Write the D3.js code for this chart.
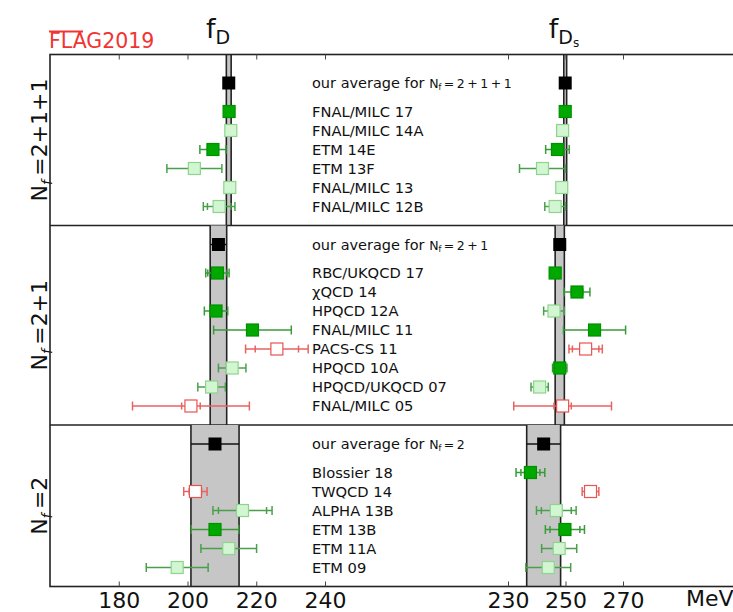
<!DOCTYPE html>
<html lang="en">
<head>
<meta charset="UTF-8">
<title>FLAG 2019 - fD and fDs</title>
<script src="https://d3js.org/d3.v7.min.js"></script>
<style>
  body { margin: 0; background: #fff; }
  svg { font-family: "DejaVu Sans", sans-serif; }
</style>
</head>
<body>
<div id="chart"></div>
<script>
// number of flavours for each panel (top to bottom)
const panelNf = ["2+1+1", "2+1", "2"];

// collaboration labels, one list per panel
const labels211 = ["FNAL/MILC 17", "FNAL/MILC 14A", "ETM 14E", "ETM 13F", "FNAL/MILC 13", "FNAL/MILC 12B"];
const labels21 = ["RBC/UKQCD 17", "χQCD 14", "HPQCD 12A", "FNAL/MILC 11", "PACS-CS 11", "HPQCD 10A", "HPQCD/UKQCD 07", "FNAL/MILC 05"];
const labels2 = ["Blossier 18", "TWQCD 14", "ALPHA 13B", "ETM 13B", "ETM 11A", "ETM 09"];

// FLAG averages [value, error] in MeV
const avgD = [[212.0, 0.7], [209.0, 2.4], [208.0, 7.0]];
const avgDs = [[249.9, 0.5], [248.0, 1.6], [242.4, 5.9]];

// results [value, stat error, total error, kind]; null = no result
// kind: "in" = used in average, "ok" = passes criteria, "bad" = does not pass
const fD211 = [[212.1, 0.6, 0.6, "in"], [212.6, 0.4, 0.4, "ok"], [207.4, 3.8, 3.8, "in"], [202.0, 8.0, 8.0, "ok"], [212.3, 1.0, 1.0, "ok"], [209.2, 3.4, 4.6, "ok"]];
const fDs211 = [[249.9, 0.4, 0.4, "in"], [249.0, 0.3, 0.3, "ok"], [247.2, 4.1, 4.1, "in"], [242.0, 8.0, 8.0, "ok"], [248.7, 1.0, 1.0, "ok"], [246.4, 0.5, 3.6, "ok"]];
const fD21 = [[208.7, 2.8, 3.4, "in"], null, [208.3, 1.0, 3.4, "in"], [218.9, 11.3, 11.3, "in"], [226.0, 6.3, 9.1, "bad"], [213.0, 4.0, 4.0, "ok"], [207.0, 4.0, 4.0, "ok"], [201.0, 2.7, 17.0, "bad"]];
const fDs21 = [[246.4, 1.3, 1.9, "in"], [254.0, 2.0, 4.5, "in"], [246.0, 0.7, 3.6, "ok"], [260.1, 10.8, 10.8, "in"], [257.0, 4.6, 5.8, "bad"], [248.0, 2.5, 2.5, "in"], [241.0, 3.0, 3.0, "ok"], [249.0, 3.0, 17.0, "bad"]];
const fD2 = [null, [202.3, 1.8, 3.4, "bad"], [216.0, 7.0, 8.6, "ok"], [208.0, 6.9, 6.9, "in"], [212.0, 8.1, 8.1, "ok"], [197.0, 9.0, 9.0, "ok"]];
const fDs2 = [[237.8, 3.3, 5.0, "in"], [258.7, 1.1, 2.9, "bad"], [246.8, 5.2, 6.9, "ok"], [249.8, 5.2, 6.8, "in"], [247.8, 6.1, 6.1, "ok"], [244.0, 7.8, 7.8, "ok"]];

// axis ticks
const ticksD = [180, 200, 220, 240];
const ticksDs = [230, 250, 270];

const panels = [
  { labels: labels211, d: fD211, ds: fDs211 },
  { labels: labels21, d: fD21, ds: fDs21 },
  { labels: labels2, d: fD2, ds: fDs2 }
];

const W = 733, H = 612;
const left = 50, right = 745;

const svg = d3.select("#chart").append("svg")
  .attr("width", W).attr("height", H);

// x scales: fD on the left, fDs on the right, same frame
const xD = d3.scaleLinear().domain([160, 240]).range([50, 325]);
const xDs = d3.scaleLinear().domain([230, 270]).range([508, 623]);

// y in "row slots"
const y = d3.scaleLinear().domain([-1.5, 26.5]).range([54.5, 586.5]);

// work out slot positions for each panel
let start = -1.5;
panels.forEach((p, i) => {
  p.start = start;
  p.avgSlot = start + (i === 0 ? 1.5 : 1);
  p.rows = p.labels.map((_, k) => p.avgSlot + 1.5 + k);
  p.end = p.rows[p.rows.length - 1] + 1;
  start = p.end;
});

const styles = {
  in: { fill: "#00a800", stroke: "#009000", bar: "#3a9a3a" },
  ok: { fill: "#d2f5d2", stroke: "#8ed48e", bar: "#4aa04a" },
  bad: { fill: "#ffffff", stroke: "#e85450", bar: "#e86262" }
};

const sq = 12;

function drawPanel(p, i) {
  const g = svg.append("g");
  const y0 = y(p.start), y1 = y(p.end);

  // bands for the two averages
  [[xD, avgD[i]], [xDs, avgDs[i]]].forEach(([x, a]) => {
    const xa = x(a[0] - a[1]), xb = x(a[0] + a[1]);
    g.append("rect").attr("x", xa).attr("y", y0).attr("width", xb - xa).attr("height", y1 - y0)
      .attr("fill", "#c6c6c6");
    g.append("line").attr("x1", xa).attr("x2", xa).attr("y1", y0).attr("y2", y1)
      .attr("stroke", "#222").attr("stroke-width", 1.6);
    g.append("line").attr("x1", xb).attr("x2", xb).attr("y1", y0).attr("y2", y1)
      .attr("stroke", "#222").attr("stroke-width", 1.6);
    // average point
    const ya = y(p.avgSlot);
    g.append("line").attr("x1", xa).attr("x2", xb).attr("y1", ya).attr("y2", ya)
      .attr("stroke", "#111").attr("stroke-width", 1.5);
    g.append("rect").attr("x", x(a[0]) - 6.5).attr("y", ya - 6.5).attr("width", 13).attr("height", 13)
      .attr("fill", "#000");
  });

  // individual results
  [[xD, p.d], [xDs, p.ds]].forEach(([x, vals]) => {
    vals.forEach((r, k) => {
      if (!r) return;
      const [v, s, t, kind] = r;
      const st = styles[kind];
      const yy = y(p.rows[k]);
      g.append("line").attr("x1", x(v - t)).attr("x2", x(v + t)).attr("y1", yy).attr("y2", yy)
        .attr("stroke", st.bar).attr("stroke-width", 1.5);
      [v - t, v + t].forEach(e => {
        g.append("line").attr("x1", x(e)).attr("x2", x(e)).attr("y1", yy - 4.5).attr("y2", yy + 4.5)
          .attr("stroke", st.bar).attr("stroke-width", 1.5);
      });
      if (s < t) {
        [v - s, v + s].forEach(e => {
          g.append("line").attr("x1", x(e)).attr("x2", x(e)).attr("y1", yy - 3.5).attr("y2", yy + 3.5)
            .attr("stroke", st.bar).attr("stroke-width", 1.5);
        });
      }
      g.append("rect").attr("x", x(v) - sq / 2).attr("y", yy - sq / 2).attr("width", sq).attr("height", sq)
        .attr("fill", st.fill).attr("stroke", st.stroke).attr("stroke-width", 1.2);
    });
  });

  // text labels
  const tx = 312;
  const avgText = g.append("text").attr("x", tx).attr("y", y(p.avgSlot) + 5)
    .attr("fill", "#111").style("font-size", "14.5px");
  avgText.append("tspan").text("our average for ");
  avgText.append("tspan").text("N").style("font-size", "12.5px");
  avgText.append("tspan").text("f").style("font-size", "8px").attr("dy", 2);
  avgText.append("tspan").text("\u2009=\u20092" + panelNf[i].slice(1).split("+").join("\u2009+\u2009"))
    .style("font-size", "12.5px").attr("dy", -2);

  g.selectAll("text.lab").data(p.labels).join("text")
    .attr("class", "lab")
    .attr("x", tx).attr("y", (d, k) => y(p.rows[k]) + 5)
    .attr("fill", "#111").style("font-size", "14.7px")
    .text(d => d);

  // rotated N_f label
  const yl = svg.append("text")
    .attr("transform", `translate(47,${(y0 + y1) / 2}) rotate(-90)`)
    .attr("text-anchor", "middle").style("font-size", "22px").attr("fill", "#111");
  yl.append("tspan").text("N");
  yl.append("tspan").text("f").style("font-size", "14px").style("font-style", "italic").attr("dy", 5);
  yl.append("tspan").text("\u2009=" + panelNf[i]).attr("dy", -5);

  // divider under panel
  if (i < panels.length - 1) {
    svg.append("line").attr("x1", left).attr("x2", right).attr("y1", y1).attr("y2", y1)
      .attr("stroke", "#222").attr("stroke-width", 1.6);
  }
}

panels.forEach(drawPanel);

// frame
svg.append("rect").attr("x", left).attr("y", y(-1.5)).attr("width", right - left)
  .attr("height", y(26.5) - y(-1.5)).attr("fill", "none").attr("stroke", "#222").attr("stroke-width", 1.6);

// axes: inward ticks on top and bottom
const yTop = y(-1.5), yBot = y(26.5);
function addAxes(x, ticks) {
  svg.append("g").attr("transform", `translate(0,${yBot})`)
    .call(d3.axisBottom(x).tickValues(ticks).tickSize(-5).tickPadding(6).tickFormat(d3.format("d")))
    .call(a => a.select(".domain").remove())
    .call(a => a.selectAll("text").style("font-size", "22px").attr("fill", "#111").style("font-family", "DejaVu Sans"))
    .call(a => a.selectAll("line").attr("stroke", "#444"));
  svg.append("g").attr("transform", `translate(0,${yTop})`)
    .call(d3.axisTop(x).tickValues(ticks).tickSize(-5).tickFormat(""))
    .call(a => a.select(".domain").remove())
    .call(a => a.selectAll("line").attr("stroke", "#444"));
}
addAxes(xD, ticksD);
addAxes(xDs, ticksDs);

svg.append("text").attr("x", 686).attr("y", 606).style("font-size", "22px").attr("fill", "#111").text("MeV");

// titles
const t1 = svg.append("text").attr("x", 218).attr("y", 38).attr("text-anchor", "middle").attr("fill", "#111");
t1.append("tspan").text("f").style("font-size", "27px");
t1.append("tspan").text("D").style("font-size", "19px").attr("dy", 6);

const t2 = svg.append("text").attr("x", 564).attr("y", 38).attr("text-anchor", "middle").attr("fill", "#111");
t2.append("tspan").text("f").style("font-size", "27px");
t2.append("tspan").text("D").style("font-size", "19px").attr("dy", 6);
t2.append("tspan").text("s").style("font-size", "12px").attr("dy", 3);

// FLAG logo
svg.append("text").attr("x", 49).attr("y", 48).style("font-size", "20.5px").attr("fill", "#f03434").text("FLAG2019");
svg.append("line").attr("x1", 49).attr("x2", 83).attr("y1", 31.5).attr("y2", 31.5)
  .attr("stroke", "#f03434").attr("stroke-width", 2);
</script>
</body>
</html>
